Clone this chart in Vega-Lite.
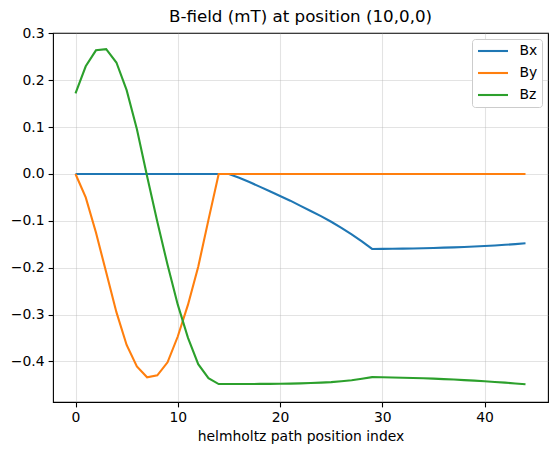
{
  "$schema": "https://vega.github.io/schema/vega-lite/v6.json",
  "width": 495,
  "height": 369,
  "autosize": {"type": "none"},
  "padding": {"left": 53, "top": 33, "right": 11, "bottom": 53},
  "background": "white",
  "title": {
    "text": "B-field (mT) at position (10,0,0)",
    "font": "DejaVu Sans",
    "fontSize": 16.7,
    "fontWeight": "normal",
    "color": "black",
    "anchor": "middle",
    "frame": "group",
    "baseline": "alphabetic",
    "offset": -12
  },
  "data": {
    "values": [
      {"i": 0, "c": "Bx", "v": 0}, {"i": 1, "c": "Bx", "v": 0}, {"i": 2, "c": "Bx", "v": 0}, {"i": 3, "c": "Bx", "v": 0},
      {"i": 4, "c": "Bx", "v": 0}, {"i": 5, "c": "Bx", "v": 0}, {"i": 6, "c": "Bx", "v": 0}, {"i": 7, "c": "Bx", "v": 0},
      {"i": 8, "c": "Bx", "v": 0}, {"i": 9, "c": "Bx", "v": 0}, {"i": 10, "c": "Bx", "v": 0}, {"i": 11, "c": "Bx", "v": 0},
      {"i": 12, "c": "Bx", "v": 0}, {"i": 13, "c": "Bx", "v": 0}, {"i": 14, "c": "Bx", "v": 0}, {"i": 15, "c": "Bx", "v": 0},
      {"i": 16, "c": "Bx", "v": -0.008}, {"i": 17, "c": "Bx", "v": -0.017}, {"i": 18, "c": "Bx", "v": -0.027},
      {"i": 19, "c": "Bx", "v": -0.037}, {"i": 20, "c": "Bx", "v": -0.047}, {"i": 21, "c": "Bx", "v": -0.057},
      {"i": 22, "c": "Bx", "v": -0.068}, {"i": 23, "c": "Bx", "v": -0.079}, {"i": 24, "c": "Bx", "v": -0.090},
      {"i": 25, "c": "Bx", "v": -0.102}, {"i": 26, "c": "Bx", "v": -0.115}, {"i": 27, "c": "Bx", "v": -0.129},
      {"i": 28, "c": "Bx", "v": -0.144}, {"i": 29, "c": "Bx", "v": -0.160}, {"i": 30, "c": "Bx", "v": -0.1599},
      {"i": 31, "c": "Bx", "v": -0.1597}, {"i": 32, "c": "Bx", "v": -0.1594}, {"i": 33, "c": "Bx", "v": -0.1590},
      {"i": 34, "c": "Bx", "v": -0.1585}, {"i": 35, "c": "Bx", "v": -0.1579}, {"i": 36, "c": "Bx", "v": -0.1573},
      {"i": 37, "c": "Bx", "v": -0.1566}, {"i": 38, "c": "Bx", "v": -0.1558}, {"i": 39, "c": "Bx", "v": -0.1549},
      {"i": 40, "c": "Bx", "v": -0.1538}, {"i": 41, "c": "Bx", "v": -0.1526}, {"i": 42, "c": "Bx", "v": -0.1512},
      {"i": 43, "c": "Bx", "v": -0.1497}, {"i": 44, "c": "Bx", "v": -0.1480},

      {"i": 0, "c": "By", "v": 0}, {"i": 1, "c": "By", "v": -0.050}, {"i": 2, "c": "By", "v": -0.125},
      {"i": 3, "c": "By", "v": -0.210}, {"i": 4, "c": "By", "v": -0.295}, {"i": 5, "c": "By", "v": -0.365},
      {"i": 6, "c": "By", "v": -0.411}, {"i": 7, "c": "By", "v": -0.434}, {"i": 8, "c": "By", "v": -0.430},
      {"i": 9, "c": "By", "v": -0.402}, {"i": 10, "c": "By", "v": -0.347}, {"i": 11, "c": "By", "v": -0.279},
      {"i": 12, "c": "By", "v": -0.198}, {"i": 13, "c": "By", "v": -0.098}, {"i": 14, "c": "By", "v": 0},
      {"i": 15, "c": "By", "v": 0}, {"i": 16, "c": "By", "v": 0}, {"i": 17, "c": "By", "v": 0}, {"i": 18, "c": "By", "v": 0},
      {"i": 19, "c": "By", "v": 0}, {"i": 20, "c": "By", "v": 0}, {"i": 21, "c": "By", "v": 0}, {"i": 22, "c": "By", "v": 0},
      {"i": 23, "c": "By", "v": 0}, {"i": 24, "c": "By", "v": 0}, {"i": 25, "c": "By", "v": 0}, {"i": 26, "c": "By", "v": 0},
      {"i": 27, "c": "By", "v": 0}, {"i": 28, "c": "By", "v": 0}, {"i": 29, "c": "By", "v": 0}, {"i": 30, "c": "By", "v": 0},
      {"i": 31, "c": "By", "v": 0}, {"i": 32, "c": "By", "v": 0}, {"i": 33, "c": "By", "v": 0}, {"i": 34, "c": "By", "v": 0},
      {"i": 35, "c": "By", "v": 0}, {"i": 36, "c": "By", "v": 0}, {"i": 37, "c": "By", "v": 0}, {"i": 38, "c": "By", "v": 0},
      {"i": 39, "c": "By", "v": 0}, {"i": 40, "c": "By", "v": 0}, {"i": 41, "c": "By", "v": 0}, {"i": 42, "c": "By", "v": 0},
      {"i": 43, "c": "By", "v": 0}, {"i": 44, "c": "By", "v": 0},

      {"i": 0, "c": "Bz", "v": 0.172}, {"i": 1, "c": "Bz", "v": 0.230}, {"i": 2, "c": "Bz", "v": 0.264},
      {"i": 3, "c": "Bz", "v": 0.2665}, {"i": 4, "c": "Bz", "v": 0.238}, {"i": 5, "c": "Bz", "v": 0.179},
      {"i": 6, "c": "Bz", "v": 0.096}, {"i": 7, "c": "Bz", "v": -0.005}, {"i": 8, "c": "Bz", "v": -0.102},
      {"i": 9, "c": "Bz", "v": -0.194}, {"i": 10, "c": "Bz", "v": -0.279}, {"i": 11, "c": "Bz", "v": -0.350},
      {"i": 12, "c": "Bz", "v": -0.406}, {"i": 13, "c": "Bz", "v": -0.436}, {"i": 14, "c": "Bz", "v": -0.4485},
      {"i": 15, "c": "Bz", "v": -0.4485}, {"i": 16, "c": "Bz", "v": -0.4484}, {"i": 17, "c": "Bz", "v": -0.4483},
      {"i": 18, "c": "Bz", "v": -0.4482}, {"i": 19, "c": "Bz", "v": -0.4480}, {"i": 20, "c": "Bz", "v": -0.4478},
      {"i": 21, "c": "Bz", "v": -0.4475}, {"i": 22, "c": "Bz", "v": -0.4470}, {"i": 23, "c": "Bz", "v": -0.4463},
      {"i": 24, "c": "Bz", "v": -0.4454}, {"i": 25, "c": "Bz", "v": -0.4443}, {"i": 26, "c": "Bz", "v": -0.4426},
      {"i": 27, "c": "Bz", "v": -0.4405}, {"i": 28, "c": "Bz", "v": -0.4372}, {"i": 29, "c": "Bz", "v": -0.4338},
      {"i": 30, "c": "Bz", "v": -0.4340}, {"i": 31, "c": "Bz", "v": -0.4344}, {"i": 32, "c": "Bz", "v": -0.4349},
      {"i": 33, "c": "Bz", "v": -0.4355}, {"i": 34, "c": "Bz", "v": -0.4362}, {"i": 35, "c": "Bz", "v": -0.4370},
      {"i": 36, "c": "Bz", "v": -0.4379}, {"i": 37, "c": "Bz", "v": -0.4389}, {"i": 38, "c": "Bz", "v": -0.4400},
      {"i": 39, "c": "Bz", "v": -0.4412}, {"i": 40, "c": "Bz", "v": -0.4425}, {"i": 41, "c": "Bz", "v": -0.4440},
      {"i": 42, "c": "Bz", "v": -0.4455}, {"i": 43, "c": "Bz", "v": -0.4472}, {"i": 44, "c": "Bz", "v": -0.4490}
    ]
  },
  "mark": {"type": "line", "strokeWidth": 2.1, "clip": true},
  "encoding": {
    "x": {
      "field": "i",
      "type": "quantitative",
      "scale": {"domain": [-2.2, 46.2], "nice": false, "zero": false},
      "axis": {"values": [0, 10, 20, 30, 40], "format": "d", "title": "helmholtz path position index"}
    },
    "y": {
      "field": "v",
      "type": "quantitative",
      "scale": {"domain": [-0.4868, 0.301], "nice": false, "zero": false},
      "axis": {"values": [-0.4, -0.3, -0.2, -0.1, 0, 0.1, 0.2, 0.3], "format": ".1f", "title": null}
    },
    "color": {
      "field": "c",
      "type": "nominal",
      "scale": {"domain": ["Bx", "By", "Bz"], "range": ["#1f77b4", "#ff7f0e", "#2ca02c"]},
      "legend": {"title": null}
    },
    "order": {"field": "i", "type": "quantitative"}
  },
  "config": {
    "view": {"stroke": "black", "strokeWidth": 1.1},
    "axis": {
      "domain": false,
      "grid": true,
      "gridColor": "#b0b0b0",
      "gridOpacity": 0.35,
      "gridWidth": 1.1,
      "ticks": true,
      "tickColor": "black",
      "tickSize": 4.9,
      "tickWidth": 1.1,
      "labelFont": "DejaVu Sans",
      "labelFontSize": 13.9,
      "labelColor": "black",
      "labelPadding": 4,
      "labelFlush": false,
      "labelOverlap": false,
      "titleFont": "DejaVu Sans",
      "titleFontSize": 13.9,
      "titleFontWeight": "normal",
      "titleColor": "black",
      "titlePadding": 5
    },
    "legend": {
      "orient": "top-right",
      "offset": 6,
      "padding": 4.5,
      "fillColor": "white",
      "strokeColor": "#cccccc",
      "cornerRadius": 3,
      "symbolType": "M-1,0H4",
      "symbolSize": 144,
      "symbolStrokeWidth": 2.1,
      "labelFont": "DejaVu Sans",
      "labelFontSize": 13.9,
      "labelColor": "black",
      "labelOffset": 28,
      "rowPadding": 7
    }
  }
}
